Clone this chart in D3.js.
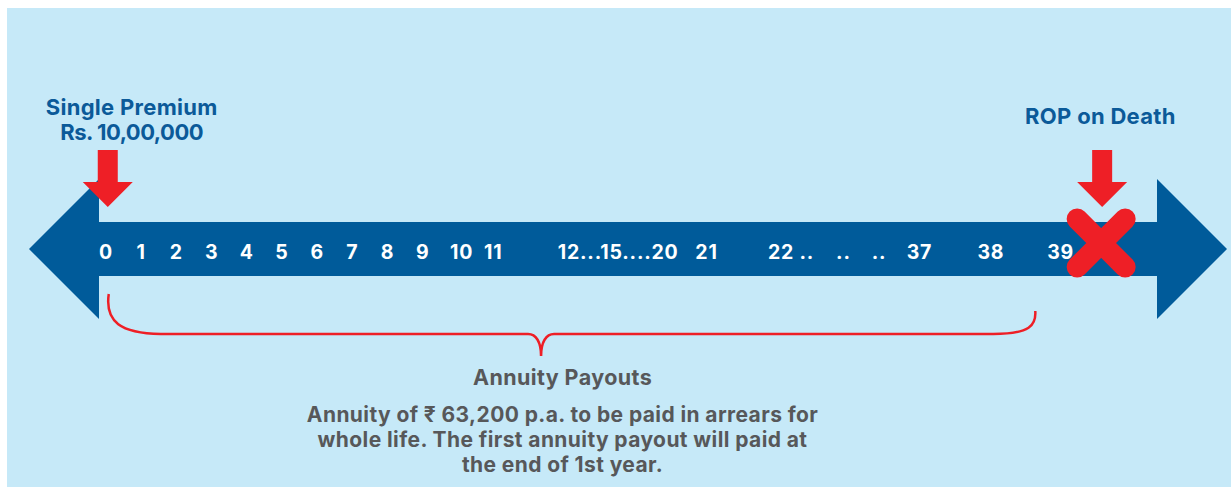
<!DOCTYPE html>
<html>
<head>
<meta charset="utf-8">
<script src="https://cdn.jsdelivr.net/npm/d3@7"></script>
<style>
  html, body { margin: 0; padding: 0; background: #fff; }
  svg { display: block; }
  text { font-family: "Inter", "Noto Sans", sans-serif; font-weight: 700; }
</style>
</head>
<body>
<svg width="1231" height="487"></svg>
<script>
// timeline ticks (labels and their position along the line, in year-slots)
var tickLabels = ["0", "1", "2", "3", "4", "5", "6", "7", "8", "9", "10", "11",
                  "12...15....20", "21", "22 ..", "..", "..", "37", "38", "39"];
var tickSlots  = [0, 1, 2, 3, 4, 5, 6, 7, 8, 9, 10.1, 11,
                  14.55, 17.06, 19.46, 20.95, 21.96, 23.11, 25.14, 27.12];

// events marked with red arrows above the line
var eventLabels = [["Single Premium", "Rs. 10,00,000"], ["ROP on Death"]];
var eventSlots  = [0.05, 28.3];
var eventLabelSlots = [0.73, 28.25];

// bracket for the payout period: start, cusp, end
var braceSlots = [0.05, 12.36, 26.4];
var braceTextSlot = 12.97;
var braceTitle = "Annuity Payouts";
var braceLines = ["Annuity of \u20B9 63,200 p.a. to be paid in arrears for",
                  "whole life. The first annuity payout will paid at",
                  "the end of 1st year."];

var loadVis = function() {
    var svg = d3.select("svg"),
        width = +svg.attr("width"),
        height = +svg.attr("height");

    var blue = "#005b9a", red = "#ee1f26", bg = "#c6e9f8", grey = "#57585a";

    var x = d3.scaleLinear().domain([0, 1]).range([106, 141.2]);

    var lineY = 249, shaftH = 54, headH = 70, headW = 70;
    var leftEnd = 29, rightEnd = 1227;

    svg.append("rect")
        .attr("x", 7).attr("y", 8)
        .attr("width", width - 7).attr("height", height - 8)
        .attr("fill", bg);

    // double headed arrow
    var xl = leftEnd + headW, xr = rightEnd - headW;
    var pts = [
        [leftEnd, lineY], [xl, lineY - headH], [xl, lineY - shaftH / 2],
        [xr, lineY - shaftH / 2], [xr, lineY - headH], [rightEnd, lineY],
        [xr, lineY + headH], [xr, lineY + shaftH / 2], [xl, lineY + shaftH / 2],
        [xl, lineY + headH]
    ];
    svg.append("polygon")
        .attr("points", pts.map(function(p) { return p.join(","); }).join(" "))
        .attr("fill", blue);

    // tick labels
    svg.append("g")
        .selectAll("text")
        .data(tickLabels)
        .enter().append("text")
            .attr("x", function(d, i) { return x(tickSlots[i]); })
            .attr("y", lineY + 10)
            .attr("text-anchor", "middle")
            .attr("fill", "#fff")
            .attr("font-size", 19.5)
            .attr("letter-spacing", 0.8)
            .text(function(d) { return d; });

    // red down arrows
    var arrows = svg.append("g").selectAll("g")
        .data(eventSlots)
        .enter().append("g")
            .attr("transform", function(d) { return "translate(" + x(d) + ",0)"; });
    arrows.append("polygon")
        .attr("points", "-10,150 10,150 10,182 25,182 0,207 -25,182 -10,182")
        .attr("fill", red);

    // red cross on death
    var cx = x(eventSlots[1]) - 1, cy = 243, r = 24;
    svg.append("path")
        .attr("d", "M" + (cx - r) + "," + (cy - r) + "L" + (cx + r) + "," + (cy + r) +
                   "M" + (cx + r) + "," + (cy - r) + "L" + (cx - r) + "," + (cy + r))
        .attr("stroke", red)
        .attr("stroke-width", 21)
        .attr("stroke-linecap", "round");

    // event labels
    var evY = [[115, 140], [124]];
    eventLabels.forEach(function(lines, i) {
        svg.append("g").selectAll("text")
            .data(lines)
            .enter().append("text")
                .attr("x", x(eventLabelSlots[i]))
                .attr("y", function(d, j) { return evY[i][j]; })
                .attr("text-anchor", "middle")
                .attr("fill", "#0b5a99")
                .attr("font-size", 22)
                .attr("letter-spacing", function(d) { return /\d/.test(d) ? -0.5 : 0.3; })
                .text(function(d) { return d; });
    });

    // curly brace
    var b0 = x(braceSlots[0]) + 1, mid = x(braceSlots[1]), b1 = x(braceSlots[2]), by = 334;
    var p = d3.path();
    p.moveTo(b0, 294);
    p.bezierCurveTo(b0 - 4, 322, b0 + 12, by - 1, b0 + 52, by);
    p.lineTo(mid - 13, by);
    p.bezierCurveTo(mid - 5, by, mid, by + 8, mid, by + 22);
    p.bezierCurveTo(mid, by + 8, mid + 5, by, mid + 13, by);
    p.lineTo(b1 - 42, by);
    p.bezierCurveTo(b1 - 5, by, b1 + 1, by - 9, b1, by - 23);
    svg.append("path")
        .attr("d", p.toString())
        .attr("fill", "none")
        .attr("stroke", red)
        .attr("stroke-width", 2.5);

    // payout text
    var tx = x(braceTextSlot);
    svg.append("text")
        .attr("x", tx).attr("y", 385)
        .attr("text-anchor", "middle")
        .attr("fill", grey)
        .attr("font-size", 21.5)
        .attr("letter-spacing", 0.4)
        .text(braceTitle);

    svg.append("g").selectAll("text")
        .data(braceLines)
        .enter().append("text")
            .attr("x", tx)
            .attr("y", function(d, i) { return 422 + i * 25; })
            .attr("text-anchor", "middle")
            .attr("fill", grey)
            .attr("font-size", 21)
            .attr("letter-spacing", 0.4)
            .text(function(d) { return d; });
};

document.addEventListener('DOMContentLoaded', loadVis, false);
</script>
</body>
</html>
